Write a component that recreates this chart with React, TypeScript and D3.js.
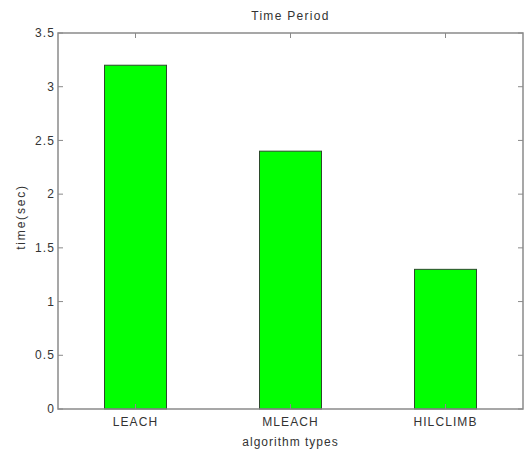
import React from "react";
import * as d3 from "d3";

const categories = ["LEACH", "MLEACH", "HILCLIMB"];
const values = [3.2, 2.4, 1.3];
const yTicks = [0, 0.5, 1, 1.5, 2, 2.5, 3, 3.5];
const yTickLabels = ["0", "0.5", "1", "1.5", "2", "2.5", "3", "3.5"];

const W = 524, H = 450;
const M = { left: 58, top: 33, right: 523, bottom: 409 };

export default function App() {
  const x = d3.scaleLinear().domain([0.5, 3.5]).range([M.left, M.right]);
  const y = d3.scaleLinear().domain([0, 3.5]).range([M.bottom, M.top]);
  const bw = x(1.2) - x(0.8);
  const axisColor = "#8a8a8a";
  const textColor = "#333";
  const font = "Arial, 'Liberation Sans', sans-serif";
  const fs = 12;
  const ls = 1.1;
  return (
    <svg width={W} height={H} style={{ position: "absolute", left: 0, top: 0, background: "#fff" }} fontFamily={font}>
      <rect x={0} y={0} width={W} height={H} fill="#fff" />
      {values.map((v, i) => (
        <rect key={i} x={x(i + 1) - bw / 2} y={y(v)} width={bw} height={y(0) - y(v)} fill="#00ff00" stroke="#2b4a2b" strokeWidth={1} />
      ))}
      <rect x={M.left} y={M.top} width={M.right - M.left} height={M.bottom - M.top} fill="none" stroke={axisColor} strokeWidth={1.5} />
      {yTicks.map((t, i) => (
        <g key={i}>
          <line x1={M.left} x2={M.left + 5} y1={y(t)} y2={y(t)} stroke={axisColor} />
          <line x1={M.right} x2={M.right - 5} y1={y(t)} y2={y(t)} stroke={axisColor} />
          <text x={M.left - 3} y={y(t)} dy="0.35em" textAnchor="end" fontSize={fs} letterSpacing={ls} fill={textColor}>{yTickLabels[i]}</text>
        </g>
      ))}
      {categories.map((c, i) => (
        <g key={c}>
          <line x1={x(i + 1)} x2={x(i + 1)} y1={M.bottom} y2={M.bottom - 5} stroke={axisColor} />
          <line x1={x(i + 1)} x2={x(i + 1)} y1={M.top} y2={M.top + 5} stroke={axisColor} />
          <text x={x(i + 1)} y={M.bottom + 17} textAnchor="middle" fontSize={fs} letterSpacing={ls} fill={textColor}>{c}</text>
        </g>
      ))}
      <text x={(M.left + M.right) / 2} y={20} textAnchor="middle" fontSize={fs} letterSpacing={1.3} fill={textColor}>Time Period</text>
      <text x={(M.left + M.right) / 2} y={446} textAnchor="middle" fontSize={fs} letterSpacing={1.0} fill={textColor}>algorithm types</text>
      <text transform={`translate(25,217) rotate(-90)`} textAnchor="middle" fontSize={fs} letterSpacing={1.8} fill={textColor}>time(sec)</text>
    </svg>
  );
}
